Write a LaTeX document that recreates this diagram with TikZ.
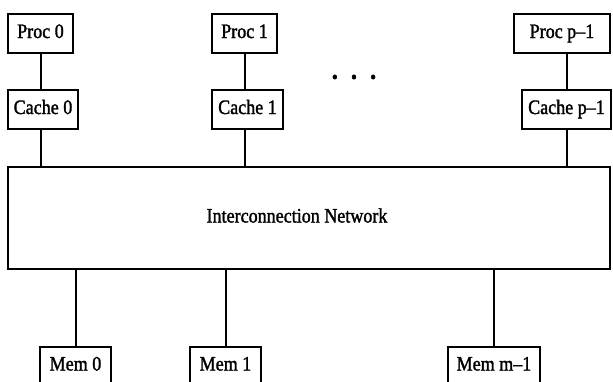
\documentclass[tikz,border=0pt]{standalone}
\usepackage{fontspec}
\setmainfont{Liberation Serif}[FakeStretch=0.88, FakeBold=1.5]
\begin{document}
\begin{tikzpicture}[x=1pt,y=-1pt,
  label/.style={font=\fontsize{20.5}{23}\selectfont, inner sep=0pt, text height=13pt, text depth=4pt},
  unit/.style={label, draw=black, line width=2pt, fill=white},
  link/.style={draw=black, line width=2pt}]
\clip (0,0) rectangle (613,381);
\useasboundingbox (0,0) rectangle (613,381);

% processors
\node[unit, minimum width=65pt, minimum height=39pt] (p0) at (40.5,33.5) {Proc 0};
\node[unit, minimum width=65pt, minimum height=39pt] (p1) at (244.5,33.5) {Proc 1};
\node[unit, minimum width=96pt, minimum height=39pt] (pp) at (562,33.5) {Proc p\textendash1};

% caches
\node[unit, minimum width=70pt, minimum height=39pt] (c0) at (43,109.5) {Cache 0};
\node[unit, minimum width=71pt, minimum height=39pt] (c1) at (247.5,109.5) {Cache 1};
\node[unit, minimum width=89pt, minimum height=39pt] (cp) at (566.5,109.5) {Cache p\textendash1};

% ellipsis between the processor columns
\node[font=\fontsize{28}{30}\selectfont\bfseries, inner sep=0pt] (dots) at (354,77)
  {.\hspace{13pt}.\hspace{13pt}.};

% network
\node[draw=black, line width=2pt, inner sep=0pt, minimum width=602pt, minimum height=102pt] (net) at (309,218) {};
\node[label] (netlabel) at (297,218) {Interconnection Network};

% memories (cut off by the lower edge)
\node[unit, minimum width=71pt, minimum height=60pt, anchor=north] (m0) at (75.5,346) {};
\node[unit, minimum width=71pt, minimum height=60pt, anchor=north] (m1) at (225.5,346) {};
\node[unit, minimum width=92pt, minimum height=60pt, anchor=north] (mm) at (494,346) {};
\node[label] (m0t) at (75.5,366) {Mem 0};
\node[label] (m1t) at (225.5,366) {Mem 1};
\node[label] (mmt) at (494,366) {Mem m\textendash1};

% processor to cache
\draw[link] (p0.south) -- (p0.south |- c0.north);
\draw[link] (p1.south) -- (p1.south |- c1.north);
\draw[link] (pp.south -| cp.north) -- (cp.north);

% cache to network
\draw[link] (p0.south |- c0.south) -- (p0.south |- net.north);
\draw[link] (p1.south |- c1.south) -- (p1.south |- net.north);
\draw[link] (cp.south) -- (cp.south |- net.north);

% network to memory
\draw[link] (net.south -| m0.north) -- (m0.north);
\draw[link] (net.south -| m1.north) -- (m1.north);
\draw[link] (net.south -| mm.north) -- (mm.north);
\end{tikzpicture}
\end{document}
